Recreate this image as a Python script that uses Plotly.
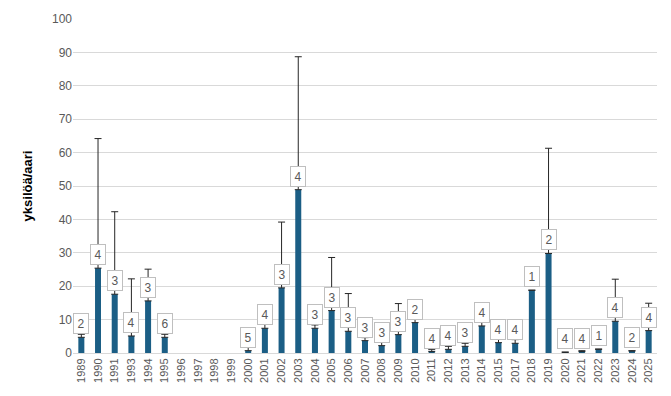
import plotly.graph_objects as go

years = ["1989","1990","1991","1993","1994","1995","1996","1997","1998","1999",
         "2000","2001","2002","2003","2004","2005","2006","2007","2008","2009",
         "2010","2011","2012","2013","2014","2015","2017","2018","2019","2020",
         "2021","2022","2023","2024","2025"]
means = [4.7, 25.4, 17.6, 5.1, 15.6, 4.7, None, None, None, None,
         0.7, 7.4, 19.5, 48.9, 7.4, 12.7, 6.5, 3.7, 2.2, 5.5,
         9.1, 0.4, 1.1, 2.0, 8.1, 3.1, 2.9, 18.8, 29.8, 0.2,
         0.4, 1.1, 9.5, 0.6, 6.7]
upper = [5.6, 64.2, 42.3, 22.2, 25.1, 5.6, None, None, None, None,
         1.8, 8.6, 39.2, 88.7, 8.4, 28.6, 17.8, 4.6, 3.2, 14.8,
         10.2, 1.0, 2.0, 2.9, 9.3, 4.4, 4.0, 18.8, 61.3, 0.3,
         0.7, 1.2, 22.1, 0.7, 14.9]
counts = [2, 4, 3, 4, 3, 6, None, None, None, None,
          5, 4, 3, 4, 3, 3, 3, 3, 3, 3,
          2, 4, 4, 3, 4, 4, 4, 1, 2, 4,
          4, 1, 4, 2, 4]

idx = list(range(len(years)))
err_plus = [(u - m) if m is not None else 0 for m, u in zip(means, upper)]
err_minus = [0 for _ in means]

fig = go.Figure()
fig.add_trace(go.Bar(
    x=idx, y=means,
    marker=dict(color="#1b5e85", line=dict(width=0)),
    error_y=dict(type="data", symmetric=False, array=err_plus, arrayminus=err_minus,
                 color="#262626", thickness=1, width=3.5),
    showlegend=False, hoverinfo="skip",
))

for i, m, c in zip(idx, means, counts):
    if m is None:
        continue
    fig.add_annotation(
        x=i, y=m, text=str(c), showarrow=False,
        yanchor="bottom", yshift=3, width=8, height=13,
        font=dict(size=12, color="#595959", family="Liberation Sans"),
        bgcolor="white", bordercolor="#bfbfbf", borderwidth=1, borderpad=3,
    )

fig.update_layout(
    width=671, height=396,
    margin=dict(l=73, r=14, t=15, b=43),
    plot_bgcolor="white", paper_bgcolor="white",
    bargap=0.64,
    font=dict(family="Liberation Sans", color="#595959"),
    yaxis=dict(range=[0, 100], dtick=10, showgrid=True, gridcolor="#d9d9d9",
               gridwidth=1, zeroline=False,
               tickfont=dict(size=12, color="#595959"),
               title=dict(text="<b>yksilöä/aari</b>", font=dict(size=13, color="#000000",
                          family="Liberation Sans"), standoff=16),
               ticks=""),
    xaxis=dict(range=[-0.5, len(years) - 0.5], tickmode="array", tickvals=idx,
               ticktext=years, tickangle=-90, tickfont=dict(size=11, color="#595959"),
               showgrid=False, zeroline=False,
               showline=True, linecolor="#d9d9d9", linewidth=1, ticks=""),
)

fig.write_html("out.html", config={"displayModeBar": False},
               post_script="document.body.style.margin='0';")
